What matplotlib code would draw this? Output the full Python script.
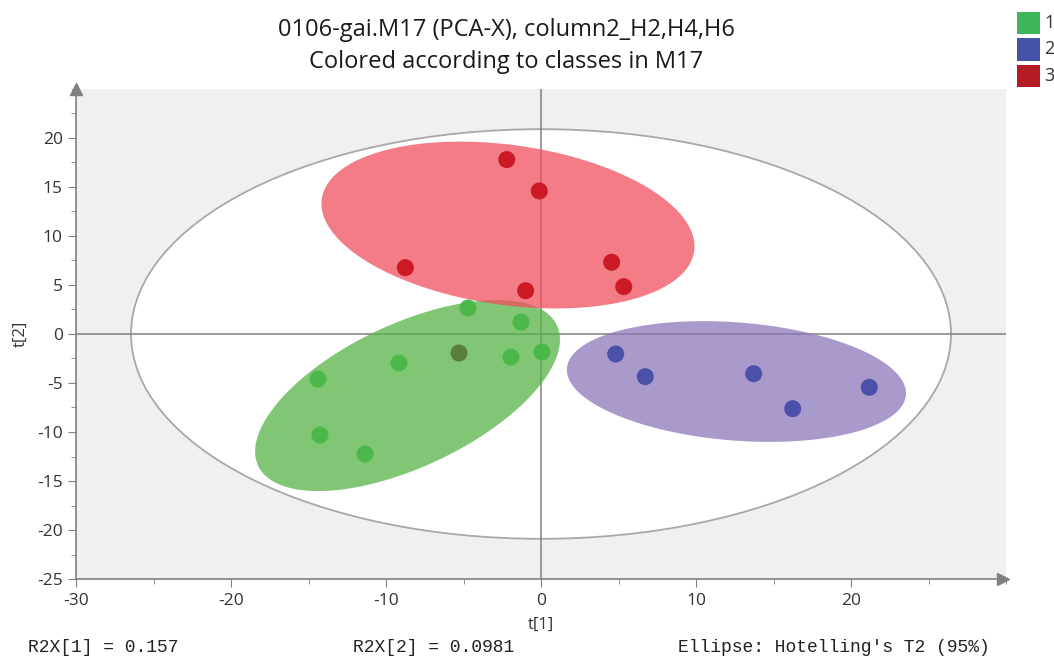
import numpy as np
import matplotlib
matplotlib.use("Agg")
import matplotlib.pyplot as plt
from matplotlib.patches import Ellipse, Polygon, Rectangle
from matplotlib.ticker import MultipleLocator

plt.rcParams['axes.unicode_minus'] = False
plt.rcParams['font.family'] = ['Open Sans', 'DejaVu Sans']

# ---------------- data ----------------
title_lines = ["0106-gai.M17 (PCA-X), column2_H2,H4,H6", "Colored according to classes in M17"]
class_labels = ["1", "2", "3"]
class_colors = ["#3cb55b", "#4453a8", "#b41b22"]

# class 1 (green)
g_t1 = [-4.71, -1.29, -5.29, -9.16, -1.94, 0.06, -14.39, -14.26, -11.35]
g_t2 = [2.65, 1.22, -1.94, -2.96, -2.35, -1.84, -4.59, -10.31, -12.24]
g_cols = ["#4cb84a", "#4cb84a", "#5a7d3a", "#4cb84a", "#4cb84a", "#4cb84a", "#4cb84a", "#4cb84a", "#4cb84a"]
# class 2 (blue)
b_t1 = [4.82, 6.73, 13.72, 16.24, 21.18]
b_t2 = [-2.04, -4.35, -4.05, -7.62, -5.44]
# class 3 (red)
r_t1 = [-2.21, -0.11, -8.75, 4.56, 5.34, -0.99]
r_t2 = [17.8, 14.6, 6.77, 7.32, 4.83, 4.42]

# group ellipses: centre (t1, t2), semi-axes (in t1 units), angle on screen (deg)
grp_centres = [(-8.61, -6.28), (12.61, -4.85), (-2.13, 11.12)]
grp_axes = [(10.65, 4.61), (10.97, 3.81), (12.13, 5.16)]
grp_angles = [25.2, -4.5, -8.0]
grp_fill = ["#56b347", "#8c78ba", "#f0505f"]

# Hotelling T2 (95%) ellipse semi-axes
t2_axes = (26.45, 20.9)

xticks = [-30, -20, -10, 0, 10, 20]
yticks = [-25, -20, -15, -10, -5, 0, 5, 10, 15, 20]
footer = ["R2X[1] = 0.157", "R2X[2] = 0.0981", "Ellipse: Hotelling's T2 (95%)"]

# ---------------- figure ----------------
W, H = 1054, 656
fig = plt.figure(figsize=(W / 100, H / 100), dpi=100)
L, R, B, T = 76 / W, 1006 / W, (H - 579) / H, (H - 89) / H
ax = fig.add_axes([L, B, R - L, T - B])
ax.set_facecolor("#f0f0f0")
xlim, ylim = (-30, 30), (-25, 25)
ax.set_xlim(*xlim)
ax.set_ylim(*ylim)

# pixel ratio between x and y units
px_x = (R - L) * W / (xlim[1] - xlim[0])
px_y = (T - B) * H / (ylim[1] - ylim[0])
ratio = px_x / px_y

# Hotelling ellipse
ax.add_patch(Ellipse((0, 0), 2 * t2_axes[0], 2 * t2_axes[1], fc="white", ec="#a8a8a8", lw=1.3, zorder=1))

# crosshair
ax.axhline(0, color="#808080", lw=1.1, zorder=2)
ax.axvline(0, color="#808080", lw=1.1, zorder=2)

# group ellipses
tt = np.linspace(0, 2 * np.pi, 300)
for (cx, cy), (a, b), ang, col in zip(grp_centres, grp_axes, grp_angles, grp_fill):
    th = np.deg2rad(ang)
    u, v = a * np.cos(tt), b * np.sin(tt)
    X = cx + u * np.cos(th) - v * np.sin(th)
    Y = cy + (u * np.sin(th) + v * np.cos(th)) * ratio
    ax.add_patch(Polygon(np.column_stack([X, Y]), closed=True, fc=col, ec="none", alpha=0.75, zorder=3))

# points
ms = 150
ax.scatter(r_t1, r_t2, s=ms, c="#cc1a24", edgecolors="none", zorder=4)
ax.scatter(b_t1, b_t2, s=ms, c="#4b51a8", edgecolors="none", zorder=4)
ax.scatter(g_t1, g_t2, s=ms, c=g_cols, edgecolors="none", zorder=5)

# axes styling
for s in ["top", "right"]:
    ax.spines[s].set_visible(False)
for s in ["left", "bottom"]:
    ax.spines[s].set_color("#808080")
    ax.spines[s].set_linewidth(1.2)
ax.set_xticks(xticks)
ax.set_yticks(yticks)
ax.xaxis.set_minor_locator(MultipleLocator(5))
ax.yaxis.set_minor_locator(MultipleLocator(2.5))
ax.tick_params(axis="both", which="major", length=6, color="#808080", labelsize=12.5, labelcolor="#333333")
ax.tick_params(axis="both", which="minor", length=3.5, color="#808080")
ax.tick_params(axis="x", pad=4)
ax.set_xlabel("t[1]", fontsize=12, color="#333333", labelpad=6)
ax.set_ylabel("t[2]", fontsize=12, color="#333333", labelpad=6)

# arrow heads
ax.plot([0], [1.0], marker="^", ms=9, color="#808080", transform=ax.transAxes, clip_on=False, zorder=6)
ax.plot([0.997], [0], marker=">", ms=9, color="#808080", transform=ax.transAxes, clip_on=False, zorder=6)

# title
fig.text(506.5 / W, 1 - 36 / H, title_lines[0], ha="center", va="baseline", fontsize=17, color="#1a1a1a")
fig.text(506.5 / W, 1 - 68 / H, title_lines[1], ha="center", va="baseline", fontsize=17, color="#1a1a1a")

# legend
for i, (lab, col) in enumerate(zip(class_labels, class_colors)):
    y0 = 12 + i * 26.5
    fig.patches.append(Rectangle((1017 / W, 1 - (y0 + 22) / H), 23 / W, 22 / H,
                                 transform=fig.transFigure, fc=col, ec="none"))
    fig.text(1044 / W, 1 - (y0 + 11) / H, lab, ha="left", va="center", fontsize=13, color="#333333")

# footer
for xp, txt in zip([28, 353, 678], footer):
    fig.text(xp / W, 1 - 648 / H, txt, ha="left", va="center", fontsize=13,
             family="Liberation Mono", color="#222222")

fig.savefig("out.png", dpi=100)
